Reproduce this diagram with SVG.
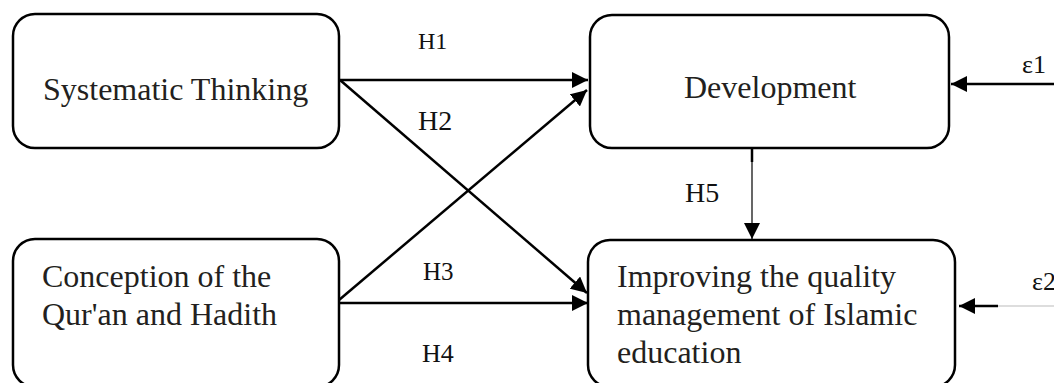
<svg xmlns="http://www.w3.org/2000/svg" width="1054" height="383" viewBox="0 0 1054 383">
<style>
.box{fill:#fff;stroke:#000;stroke-width:2.5}
.t{font-family:"Liberation Serif","Times New Roman",serif;font-size:32px;fill:#231f20}
.h{font-family:"Liberation Serif","Times New Roman",serif;fill:#111}
.c{stroke:#000;stroke-width:2.5;fill:none}
</style>
<defs>
<marker id="ah" markerUnits="userSpaceOnUse" markerWidth="18" markerHeight="16" refX="16" refY="8" orient="auto">
<path d="M0,0 L16,8 L0,16 Z" fill="#000"/>
</marker>
</defs>
<rect width="1054" height="383" fill="#fff"/>
<g id="connectors">
<line class="c" x1="340" y1="80" x2="588" y2="80" marker-end="url(#ah)"/>
<line class="c" x1="340" y1="80" x2="587" y2="293" marker-end="url(#ah)"/>
<line class="c" x1="339" y1="300" x2="587" y2="90" marker-end="url(#ah)"/>
<line class="c" x1="339" y1="303" x2="588" y2="303" marker-end="url(#ah)"/>
<line x1="752" y1="148" x2="752" y2="162" stroke="#000" stroke-width="2.5"/>
<line x1="752" y1="160" x2="752" y2="239" stroke="#000" stroke-width="1.2" marker-end="url(#ah)"/>
<line class="c" x1="1054" y1="84" x2="951" y2="84" marker-end="url(#ah)"/>
<line x1="998" y1="306" x2="1054" y2="306" stroke="#bbb" stroke-width="1"/>
<line class="c" x1="998" y1="306" x2="959" y2="306" marker-end="url(#ah)"/>
<text class="h" x="418" y="49" font-size="24">H1</text>
<text class="h" x="418" y="130" font-size="28">H2</text>
<text class="h" x="423" y="280" font-size="25">H3</text>
<text class="h" x="422" y="362" font-size="26">H4</text>
<text class="h" x="685" y="202" font-size="28">H5</text>
<text class="h" x="1022" y="73" font-size="26">ε1</text>
<text class="h" x="1032" y="290" font-size="26">ε2</text>
</g>
<g id="systematic">
<rect class="box" x="13" y="14" width="326" height="134" rx="22"/>
<text class="t" x="43" y="100">Systematic Thinking</text>
</g>
<g id="development">
<rect class="box" x="590" y="15" width="359" height="133" rx="22"/>
<text class="t" x="684" y="98">Development</text>
</g>
<g id="conception">
<rect class="box" x="13" y="239" width="326" height="148" rx="22"/>
<text class="t" x="42" y="287">Conception of the</text>
<text class="t" x="42" y="325">Qur'an and Hadith</text>
</g>
<g id="improving">
<rect class="box" x="588" y="240" width="367" height="147" rx="22"/>
<text class="t" x="617" y="287">Improving the quality</text>
<text class="t" x="617" y="325">management of Islamic</text>
<text class="t" x="617" y="363">education</text>
</g>
</svg>
